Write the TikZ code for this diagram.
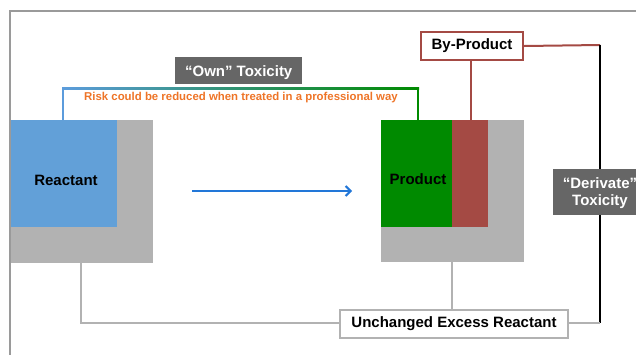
\documentclass[tikz,border=0pt]{standalone}
\usepackage{fontspec}
\setmainfont{Liberation Sans}
\usetikzlibrary{arrows.meta}
\definecolor{frameg}{HTML}{9A9A9A}
\definecolor{boxg}{HTML}{B2B2B2}
\definecolor{reactblue}{HTML}{62A0D8}
\definecolor{prodgreen}{HTML}{008A00}
\definecolor{byred}{HTML}{A44A44}
\definecolor{darkbox}{HTML}{666666}
\definecolor{riskorange}{HTML}{EE7427}
\definecolor{arrowblue}{HTML}{2277D8}
\definecolor{linkblue}{HTML}{5C9CDC}
\tikzset{
  blk/.style={draw=none, inner sep=0pt, anchor=north west},
  label/.style={font=\bfseries\fontsize{15}{17}\selectfont, inner sep=0pt},
  darklabel/.style={fill=darkbox, text=white, font=\bfseries\fontsize{15}{17}\selectfont, inner sep=0pt, anchor=north west, align=center},
  whitebox/.style={fill=white, line width=2pt, inner sep=0pt, anchor=north west, font=\bfseries\fontsize{15}{17}\selectfont},
  conn/.style={line width=2pt},
}
\begin{document}
\begin{tikzpicture}[x=1pt,y=-1pt]
\useasboundingbox (0,0) rectangle (636,354);
\clip (0,0) rectangle (636,354);
% frame
\draw[frameg, line width=2pt] (10,360) -- (10,11) -- (640,11);
% reactant
\node[blk, fill=boxg, minimum width=142pt, minimum height=143pt] (rg) at (11,120) {};
\node[blk, fill=reactblue, minimum width=106pt, minimum height=107pt] (rb) at (11,120) {};
\node[label] (rt) at (66,180) {Reactant};
% product
\node[blk, fill=boxg, minimum width=143pt, minimum height=142pt] (pg) at (381,120) {};
\node[blk, fill=prodgreen, minimum width=71pt, minimum height=107pt] (pgr) at (381,120) {};
\node[blk, fill=byred, minimum width=36pt, minimum height=107pt] (pr) at (452,120) {};
\node[label] (pt) at (418,179) {Product};
% arrow
\coordinate (a1) at (192,191);
\coordinate (a2) at (352,191);
\draw[arrowblue, line width=2pt, -{Straight Barb[length=5pt,width=10pt]}] (a1) -- (a2);
% own toxicity link
\coordinate (l1) at (63,120);
\coordinate (l2) at (63,88);
\coordinate (l3) at (418,88);
\coordinate (l4) at (418,120);
\draw[linkblue, conn] (l1) -- (l2);
\shade[left color=linkblue, right color=prodgreen] (62,87) rectangle (419,89);
\draw[prodgreen, conn] (l3) -- (l4);
\node[darklabel, minimum width=127pt, minimum height=27pt] (own) at (175,57) {};
\node[text=white, font=\bfseries\fontsize{15}{17}\selectfont, inner sep=0pt] at ([yshift=-1.5pt]own.center) {“Own” Toxicity};
\node[text=riskorange, font=\bfseries\fontsize{11.4}{13}\selectfont, inner sep=0pt] (risk) at (241,98) {Risk could be reduced when treated in a professional way};
% by-product
\node[whitebox, draw=byred, minimum width=102pt, minimum height=28pt] (bp) at (420,31) {By-Product};
\coordinate (bpb) at (471,120);
\draw[byred, conn] (bp.south -| bpb) -- (bpb);
\coordinate (c1) at (600,45);
\draw[byred, conn] (bp.east) -- (c1);
% derivate
\node[darklabel, minimum width=94pt, minimum height=46pt] (der) at (553,169) {};
\node[text=white, font=\bfseries\fontsize{15}{17}\selectfont, inner sep=0pt, align=center] at (600,193) {“Derivate”\\Toxicity};
\draw[black, conn] (c1) -- (der.north -| c1);
% unchanged
\node[whitebox, draw=boxg, minimum width=228pt, minimum height=28pt] (ue) at (339,309) {Unchanged Excess Reactant};
\coordinate (c2) at (600,323);
\draw[black, conn] (der.south -| c2) -- (c2);
\draw[boxg, conn] (c2) -- (ue.east |- c2);
\coordinate (pgb) at (452,262);
\draw[boxg, conn] (pgb) -- (ue.north -| pgb);
\coordinate (rgb) at (81,263);
\coordinate (rgc) at (81,323);
\draw[boxg, conn] (rgb) -- (rgc) -- (ue.west |- rgc);
\end{tikzpicture}
\end{document}
